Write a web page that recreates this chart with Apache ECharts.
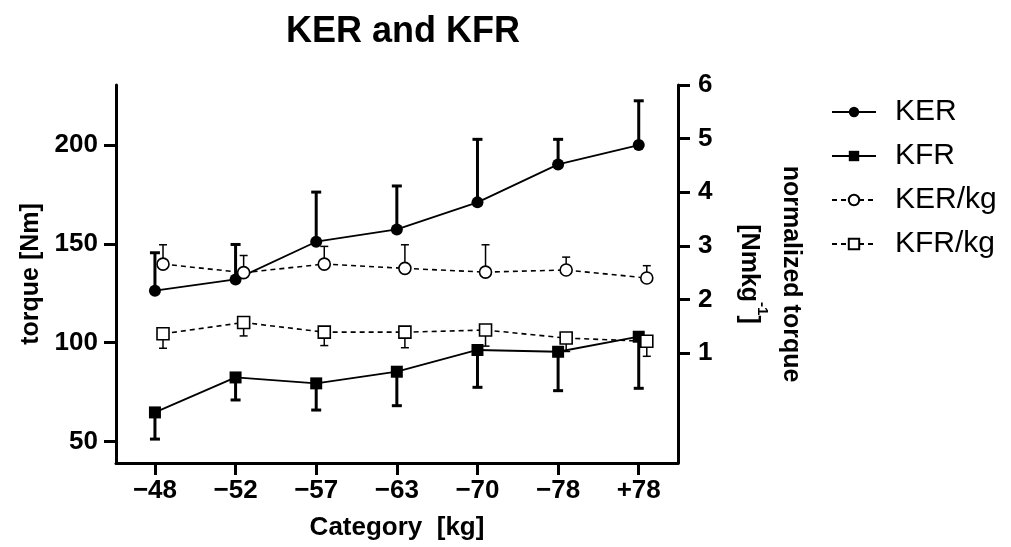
<!DOCTYPE html>
<html>
<head>
<meta charset="utf-8">
<script src="https://cdn.jsdelivr.net/npm/echarts@6/dist/echarts.min.js"></script>
<style>
  html, body { margin: 0; padding: 0; background: #fff; }
  #chart { width: 1011px; height: 547px; }
</style>
</head>
<body>
<div id="chart"></div>
<script>
// categories (kg)
var categories = ['\u221248', '\u221252', '\u221257', '\u221263', '\u221270', '\u221278', '+78'];

// absolute torque [Nm], mean and SD
var kerMean = [126.3, 132.0, 151.1, 157.3, 171.0, 190.2, 200.0];
var kerSd   = [19.2, 17.7, 25.1, 22.0, 31.9, 12.7, 22.4];
var kfrMean = [64.7, 82.4, 79.4, 85.3, 96.3, 95.4, 103.0];
var kfrSd   = [13.5, 11.4, 13.5, 17.2, 18.9, 19.7, 26.1];

// normalized torque [Nm/kg], mean and SD
var kerKgMean = [2.66, 2.50, 2.66, 2.58, 2.51, 2.55, 2.40];
var kerKgSd   = [0.36, 0.32, 0.33, 0.44, 0.51, 0.24, 0.23];
var kfrKgMean = [1.36, 1.57, 1.39, 1.39, 1.43, 1.28, 1.22];
var kfrKgSd   = [0.27, 0.25, 0.25, 0.29, 0.30, 0.25, 0.28];

var leftTicks = [50, 100, 150, 200];
var rightTicks = [1, 2, 3, 4, 5, 6];

var font = 'Liberation Sans, Arial, Helvetica, sans-serif';
var kgShift = 0.1; // normalized points are drawn a little right of the tick

function pts(arr, shift) {
  return arr.map(function (v, i) { return [i + shift, v]; });
}
function errData(mean, sd, shift, dir) {
  return mean.map(function (v, i) { return [i + shift, v, v + dir * sd[i]]; });
}
function errSeries(name, mean, sd, shift, dir, yIdx, width, cap) {
  return {
    name: name,
    type: 'custom',
    yAxisIndex: yIdx,
    z: 1,
    silent: true,
    data: errData(mean, sd, shift, dir),
    renderItem: function (params, api) {
      var p0 = api.coord([api.value(0), api.value(1)]);
      var p1 = api.coord([api.value(0), api.value(2)]);
      var st = { stroke: '#000', lineWidth: width };
      return {
        type: 'group',
        children: [
          { type: 'line', shape: { x1: p0[0], y1: p0[1], x2: p1[0], y2: p1[1] }, style: st },
          { type: 'line', shape: { x1: p1[0] - cap, y1: p1[1], x2: p1[0] + cap, y2: p1[1] }, style: st }
        ]
      };
    }
  };
}

var myChart = echarts.init(document.getElementById('chart'));

var axisLine = { show: true, onZero: false, lineStyle: { color: '#000', width: 3 } };
var axisTick = { show: true, inside: false, length: 12, lineStyle: { color: '#000', width: 3 } };
var tickText = { color: '#000', fontSize: 26, fontWeight: 'bold', fontFamily: font };

var option = {
  animation: false,
  backgroundColor: '#fff',
  title: {
    text: 'KER and KFR',
    left: 398,
    top: 9,
    textAlign: 'center',
    textStyle: { color: '#000', fontSize: 36, fontWeight: 'bold', fontFamily: font }
  },
  legend: {
    orient: 'vertical',
    left: 826,
    top: 92,
    itemWidth: 44,
    itemHeight: 13,
    itemGap: 14,
    data: ['KER', 'KFR', 'KER/kg', 'KFR/kg'],
    textStyle: { color: '#000', fontSize: 30, fontFamily: font, padding: [0, 0, 0, 14] }
  },
  grid: { left: 116, right: 333, top: 85, bottom: 84 },
  xAxis: {
    type: 'value',
    min: -0.483,
    max: 6.487,
    splitLine: { show: false },
    axisLine: axisLine,
    axisTick: Object.assign({}, axisTick, { customValues: [0, 1, 2, 3, 4, 5, 6] }),
    axisLabel: Object.assign({}, tickText, {
      margin: 15,
      customValues: [0, 1, 2, 3, 4, 5, 6],
      formatter: function (v) { return categories[Math.round(v)]; }
    }),
    name: 'Category  [kg]',
    nameLocation: 'middle',
    nameGap: 52,
    nameTextStyle: { color: '#000', fontSize: 26, fontWeight: 'bold', fontFamily: font }
  },
  yAxis: [
    {
      type: 'value',
      position: 'left',
      min: 39.1,
      max: 230.4,
      splitLine: { show: false },
      axisLine: axisLine,
      axisTick: Object.assign({}, axisTick, { customValues: leftTicks }),
      axisLabel: Object.assign({}, tickText, { margin: 18, customValues: leftTicks }),
      name: 'torque [Nm]',
      nameLocation: 'middle',
      nameRotate: 90,
      nameGap: 72,
      nameTextStyle: { color: '#000', fontSize: 25, fontWeight: 'bold', fontFamily: font }
    },
    {
      type: 'value',
      position: 'right',
      min: -1.05,
      max: 6,
      splitLine: { show: false },
      axisLine: axisLine,
      axisTick: Object.assign({}, axisTick, { customValues: rightTicks }),
      axisLabel: Object.assign({}, tickText, { margin: 20, customValues: rightTicks }),
      name: '{a|normalized torque}\n{a|[Nmkg}{s|-1}{a|]}',
      nameLocation: 'middle',
      nameRotate: -90,
      nameGap: 50,
      nameTextStyle: {
        color: '#000', fontFamily: font,
        rich: {
          a: { fontSize: 25, fontWeight: 'bold', color: '#000', fontFamily: font, lineHeight: 42 },
          s: { fontSize: 15, fontWeight: 'bold', color: '#000', fontFamily: font, verticalAlign: 'top', lineHeight: 42 }
        }
      }
    }
  ],
  series: [
    errSeries('errKER', kerMean, kerSd, 0, 1, 0, 3, 5),
    errSeries('errKFR', kfrMean, kfrSd, 0, -1, 0, 3, 5),
    errSeries('errKERkg', kerKgMean, kerKgSd, kgShift, 1, 1, 1.5, 4),
    errSeries('errKFRkg', kfrKgMean, kfrKgSd, kgShift, -1, 1, 1.5, 4),
    {
      name: 'KER', type: 'line', yAxisIndex: 0, z: 3,
      data: pts(kerMean, 0),
      symbol: 'circle', symbolSize: 12,
      lineStyle: { color: '#000', width: 1.8 },
      itemStyle: { color: '#000' }
    },
    {
      name: 'KFR', type: 'line', yAxisIndex: 0, z: 3,
      data: pts(kfrMean, 0),
      symbol: 'rect', symbolSize: 12,
      lineStyle: { color: '#000', width: 1.8 },
      itemStyle: { color: '#000' }
    },
    {
      name: 'KER/kg', type: 'line', yAxisIndex: 1, z: 3,
      data: pts(kerKgMean, kgShift),
      symbol: 'circle', symbolSize: 12, showAllSymbol: true,
      lineStyle: { color: '#000', width: 1.6, type: [5, 4] },
      itemStyle: { color: '#fff', borderColor: '#000', borderWidth: 1.6 }
    },
    {
      name: 'KFR/kg', type: 'line', yAxisIndex: 1, z: 3,
      data: pts(kfrKgMean, kgShift),
      symbol: 'rect', symbolSize: 12,
      lineStyle: { color: '#000', width: 1.6, type: [5, 4] },
      itemStyle: { color: '#fff', borderColor: '#000', borderWidth: 1.6 }
    }
  ]
};

myChart.setOption(option);
</script>
</body>
</html>
